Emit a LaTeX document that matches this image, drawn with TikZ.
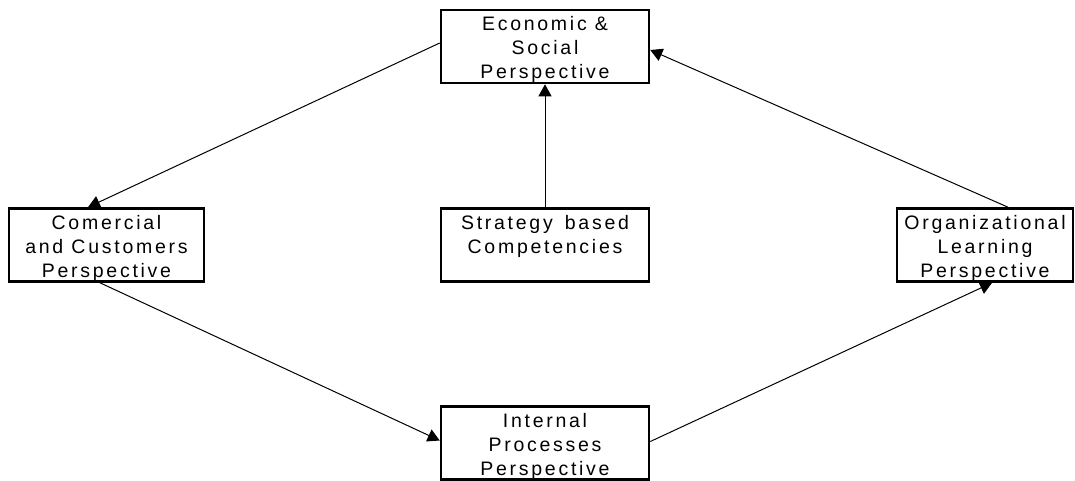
\documentclass[tikz,border=0pt]{standalone}
\usepackage{fontspec}
\setmainfont{Liberation Sans}[LetterSpace=14]
\usetikzlibrary{arrows.meta}
\begin{document}
\begin{tikzpicture}[x=1pt,y=-1pt,
  box/.style={draw=black,line width=2.6pt,fill=white,inner sep=0pt,align=center,
    font=\fontsize{19.5}{24}\selectfont,minimum height=73pt,text height=68pt,text depth=4pt},
  conn/.style={draw=black,line width=1pt,-{Triangle[length=12pt,width=13pt]}}]
\useasboundingbox (0,0) rectangle (1075,480);
\node[box,minimum width=208pt] (top) at (545,46.5) {Economic \&\\Social\\Perspective};
\node[box,minimum width=195pt] (left) at (106.5,245) {Comercial\\and Customers\\Perspective};
\node[box,minimum width=208pt,text height=44pt,text depth=28pt] (mid) at (545,245) {Strategy\hspace{4pt} based\\Competencies};
\node[box,minimum width=176pt] (right) at (985,245) {Organizational\\Learning\\Perspective};
\node[box,minimum width=208pt] (bottom) at (545,443) {Internal\\Processes\\Perspective};
\draw[conn] ([yshift=3.5pt]top.west) -- ([xshift=-18.5pt]left.north);
\draw[conn] (mid.north) -- (top.south);
\draw[conn] ([xshift=23pt]right.north) -- ([yshift=-3.5pt]top.east);
\draw[conn] ([xshift=-6.5pt]left.south) -- ([yshift=2.5pt]bottom.west);
\draw[conn] ([yshift=1.5pt]bottom.east) -- ([xshift=7pt]right.south);
\end{tikzpicture}
\end{document}
